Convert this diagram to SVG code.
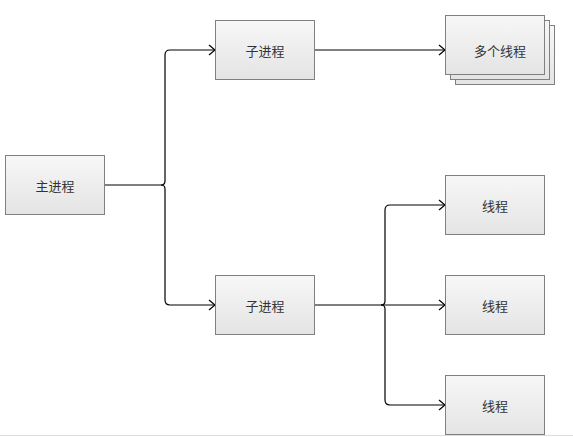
<svg xmlns="http://www.w3.org/2000/svg" width="573" height="437" viewBox="0 0 573 437">
<style>
.box{fill:url(#g);stroke:#808080;stroke-width:1}
.t{font-family:"Noto Sans CJK SC","Noto Sans",sans-serif;font-size:13px;fill:#333;text-anchor:middle;dominant-baseline:central}
.c{fill:none;stroke:#000;stroke-width:1.2}
</style>
<defs>
<linearGradient id="g" x1="0" y1="0" x2="0" y2="1">
<stop offset="0" stop-color="#f7f7f7"/>
<stop offset="1" stop-color="#e4e4e4"/>
</linearGradient>
<marker id="a" markerWidth="10" markerHeight="12" refX="8" refY="6" orient="auto" markerUnits="userSpaceOnUse">
<path d="M2,1 L8,6 L2,11" fill="none" stroke="#000" stroke-width="1.2"/>
</marker>
</defs>
<rect x="0" y="0" width="573" height="437" fill="#fff"/>
<line x1="0" y1="435.5" x2="573" y2="435.5" stroke="#ddd"/>
<g id="connectors">
<path class="c" d="M104,185 L161,185 Q165,185 165,181 L165,55 Q165,50 170,50 L215,50" marker-end="url(#a)"/>
<path class="c" d="M161,185 Q165,185 165,189 L165,300 Q165,305 170,305 L215,305" marker-end="url(#a)"/>
<path class="c" d="M314,50 L445,50" marker-end="url(#a)"/>
<path class="c" d="M314,305 L381,305 Q385,305 385,301 L385,210 Q385,205 390,205 L445,205" marker-end="url(#a)"/>
<path class="c" d="M381,305 Q385,305 385,309 L385,400 Q385,405 390,405 L445,405" marker-end="url(#a)"/>
<path class="c" d="M381,305 L445,305" marker-end="url(#a)"/>
</g>
<g id="main">
<rect class="box" x="5.5" y="155.5" width="99" height="59"/>
<text class="t" x="55" y="185">主进程</text>
</g>
<g id="child1">
<rect class="box" x="215.5" y="20.5" width="99" height="59"/>
<text class="t" x="265" y="50">子进程</text>
</g>
<g id="threads">
<rect class="box" x="455.5" y="25.5" width="99" height="59"/>
<rect class="box" x="450.5" y="20.5" width="99" height="59"/>
<rect class="box" x="445.5" y="15.5" width="99" height="59"/>
<text class="t" x="500" y="50">多个线程</text>
</g>
<g id="child2">
<rect class="box" x="215.5" y="275.5" width="99" height="59"/>
<text class="t" x="265" y="305">子进程</text>
</g>
<g id="thread1">
<rect class="box" x="445.5" y="175.5" width="99" height="59"/>
<text class="t" x="495" y="205">线程</text>
</g>
<g id="thread2">
<rect class="box" x="445.5" y="275.5" width="99" height="59"/>
<text class="t" x="495" y="305">线程</text>
</g>
<g id="thread3">
<rect class="box" x="445.5" y="375.5" width="99" height="59"/>
<text class="t" x="495" y="405">线程</text>
</g>
</svg>
